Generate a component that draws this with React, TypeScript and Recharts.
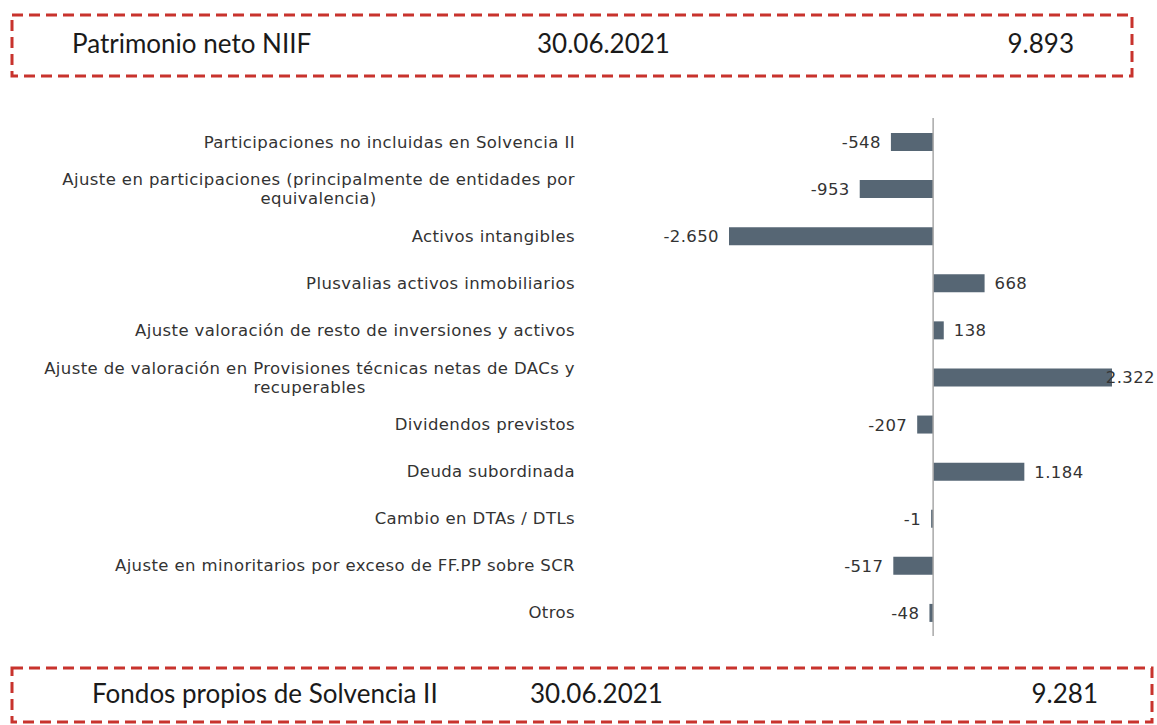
import { Bar, BarChart, LabelList, ReferenceLine, XAxis, YAxis } from 'recharts'

const categories = [
  'Participaciones no incluidas en Solvencia II',
  'Ajuste en participaciones (principalmente de entidades por\nequivalencia)',
  'Activos intangibles',
  'Plusvalias activos inmobiliarios',
  'Ajuste valoración de resto de inversiones y activos',
  'Ajuste de valoración en Provisiones técnicas netas de DACs y\nrecuperables',
  'Dividendos previstos',
  'Deuda subordinada',
  'Cambio en DTAs / DTLs',
  'Ajuste en minoritarios por exceso de FF.PP sobre SCR',
  'Otros',
]
const adjustments = [-548, -953, -2650, 668, 138, 2322, -207, 1184, -1, -517, -48]

const startLabel = 'Patrimonio neto NIIF'
const startDate = '30.06.2021'
const startValue = '9.893'
const endLabel = 'Fondos propios de Solvencia II'
const endDate = '30.06.2021'
const endValue = '9.281'

const data = categories.map((name, i) => ({ name, value: adjustments[i] }))

const W = 1157
const H = 725
const LABEL_FONT = '"DejaVu Sans", Verdana, sans-serif'
const LABEL_SIZE = 16.5
const LS = 0.4
const BOX_FONT = 'Lato, "Open Sans", sans-serif'
const BOX_SIZE = 26
const BAR_COLOR = '#566674'
const RED = '#c8332d'

const fmt = (v: number) => {
  const s = String(Math.abs(v)).replace(/\B(?=(\d{3})+(?!\d))/g, '.')
  return v < 0 ? '-' + s : s
}

let ctx: CanvasRenderingContext2D | null = null
const measure = (t: string) => {
  if (!ctx) ctx = document.createElement('canvas').getContext('2d')
  if (!ctx) return t.length * 9
  ctx.font = `${LABEL_SIZE}px ${LABEL_FONT}`
  return ctx.measureText(t).width + t.length * LS
}

const textStyle = {
  fontSize: LABEL_SIZE,
  fontFamily: LABEL_FONT,
  letterSpacing: LS,
  fill: '#333',
}

function CategoryTick(props: any) {
  const { y, payload } = props
  const lines: string[] = String(payload.value).split('\n')
  const right = 575
  if (lines.length === 1) {
    return (
      <text x={right} y={y} dy={6} textAnchor="end" style={textStyle}>
        {lines[0]}
      </text>
    )
  }
  const w = Math.max(...lines.map((l) => measure(l)))
  const cx = right - w / 2
  return (
    <text x={cx} y={y} textAnchor="middle" style={textStyle}>
      {lines.map((l, i) => (
        <tspan key={i} x={cx} y={y + 6 + (i - (lines.length - 1) / 2) * 19}>
          {l}
        </tspan>
      ))}
    </text>
  )
}

function ValueLabel(props: any) {
  const { x, y, width, height, value } = props
  const left = Math.min(x, x + width)
  const rightEnd = Math.max(x, x + width)
  const text = fmt(value)
  const cy = y + height / 2 + 6
  if (value < 0) {
    return (
      <text x={left - 10} y={cy} textAnchor="end" style={textStyle}>
        {text}
      </text>
    )
  }
  const tx = Math.min(rightEnd + 10, W - measure(text) - 2)
  return (
    <text x={tx} y={cy} textAnchor="start" style={textStyle}>
      {text}
    </text>
  )
}

function DashedBox(props: {
  top: number
  left: number
  width: number
  height: number
  baseline: number
  label: string
  date: string
  value: string
  labelX: number
  dateX: number
  valueRight: number
}) {
  const { top, left, width, height, baseline, label, date, value, labelX, dateX, valueRight } = props
  const by = baseline - top + 2
  return (
    <svg
      width={width + 4}
      height={height + 4}
      style={{ position: 'absolute', left: left - 2, top: top - 2, overflow: 'visible' }}
    >
      <rect x={2} y={2} width={width} height={height} fill="none" stroke={RED} strokeWidth={3} strokeDasharray="11 6" />
      <text x={labelX - left + 2} y={by} fontSize={BOX_SIZE} fontFamily={BOX_FONT} fill="#1a1a1a">
        {label}
      </text>
      <text x={dateX - left + 2} y={by} fontSize={BOX_SIZE} fontFamily={BOX_FONT} fill="#1a1a1a">
        {date}
      </text>
      <text x={valueRight - left + 2} y={by} textAnchor="end" fontSize={BOX_SIZE} fontFamily={BOX_FONT} fill="#1a1a1a">
        {value}
      </text>
    </svg>
  )
}

export default function App() {
  return (
    <div style={{ position: 'absolute', left: 0, top: 0, width: W, height: H, background: '#fff', overflow: 'hidden' }}>
      <DashedBox
        top={15}
        left={12}
        width={1120}
        height={61}
        baseline={53}
        label={startLabel}
        date={startDate}
        value={startValue}
        labelX={72}
        dateX={537}
        valueRight={1074}
      />
      <div style={{ position: 'absolute', left: 0, top: 0 }}>
        <BarChart
          width={W}
          height={H}
          data={data}
          layout="vertical"
          margin={{ top: 118, right: 45, bottom: 89, left: 0 }}
          barSize={18}
        >
          <XAxis type="number" domain={[-2650, 2322]} hide />
          <YAxis
            type="category"
            dataKey="name"
            width={729}
            axisLine={false}
            tickLine={false}
            interval={0}
            tick={<CategoryTick />}
          />
          <Bar dataKey="value" fill={BAR_COLOR} minPointSize={2} isAnimationActive={false}>
            <LabelList dataKey="value" content={<ValueLabel />} />
          </Bar>
          <ReferenceLine x={0} stroke="#a8a8a8" strokeWidth={1.5} />
        </BarChart>
      </div>
      <DashedBox
        top={668}
        left={12}
        width={1140}
        height={54}
        baseline={703}
        label={endLabel}
        date={endDate}
        value={endValue}
        labelX={92}
        dateX={530}
        valueRight={1098}
      />
    </div>
  )
}
